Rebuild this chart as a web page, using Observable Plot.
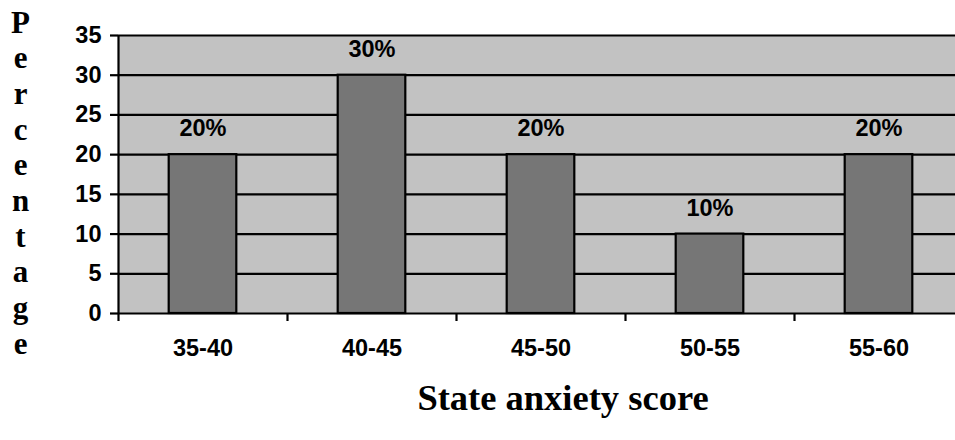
<!DOCTYPE html>
<html>
<head>
<meta charset="utf-8">
<script src="https://cdn.jsdelivr.net/npm/d3@7"></script>
<script src="https://cdn.jsdelivr.net/npm/@observablehq/plot@0.6"></script>
<style>
  html, body { margin: 0; padding: 0; background: white; overflow: hidden; }
</style>
</head>
<body>
<div id="chart"></div>
<script>
const categories = ["35-40", "40-45", "45-50", "50-55", "55-60"];
const percentages = [20, 30, 20, 10, 20];
const yTicks = [0, 5, 10, 15, 20, 25, 30, 35];
const yAxisTitle = "Percentage";
const xAxisTitle = "State anxiety score";

const data = categories.map((c, i) => ({cat: c, idx: i, pct: percentages[i]}));
const boundaryTicks = d3.range(categories.length + 1);
const centerTicks = categories.map((c, i) => i + 0.5);

const bg = "#c2c2c2";
const barFill = "#767676";

const chart = Plot.plot({
  width: 955,
  height: 440,
  marginLeft: 118,
  marginRight: 0,
  marginTop: 35,
  marginBottom: 127,
  style: {fontFamily: "'Liberation Sans', Arial, sans-serif", fontSize: "23.5px", fontWeight: "bold", background: "white", overflow: "visible"},
  x: {type: "linear", domain: [0, categories.length], range: [118, 963]},
  y: {domain: [0, 35], range: [313, 35]},
  marks: [
    Plot.frame({fill: bg, stroke: null}),
    Plot.ruleY(yTicks, {stroke: "black", strokeWidth: 2.2}),
    Plot.rectY(data, {x1: d => d.idx + 0.3, x2: d => d.idx + 0.7, y1: 0, y2: "pct", fill: barFill, stroke: "black", strokeWidth: 2.2}),
    Plot.text(data, {x: d => d.idx + 0.5, y: "pct", text: d => d.pct + "%", dy: -26, fontSize: 23.5, fontWeight: "bold"}),
    Plot.ruleX([0], {y1: 0, y2: 35, stroke: "black", strokeWidth: 2.2}),
    Plot.axisY({ticks: yTicks, tickSize: 8, tickPadding: 9, strokeWidth: 2.2, label: null, tickFormat: d => String(d)}),
    Plot.axisX({ticks: boundaryTicks, tickSize: 8, strokeWidth: 2.2, tickFormat: () => "", label: null}),
    Plot.axisX({ticks: centerTicks, tickSize: 0, tickPadding: 26, tickFormat: d => categories[Math.floor(d)], label: null}),
    Plot.text([yAxisTitle.split("").join("\n")], {
      frameAnchor: "top-left", dx: -98, dy: -28, lineAnchor: "top", textAnchor: "middle",
      lineHeight: 1.15, fontSize: 31, fontWeight: "bold", fontFamily: "'Liberation Serif', 'Times New Roman', serif"
    }),
    Plot.text([xAxisTitle], {
      frameAnchor: "bottom", dx: 26, dy: 96, lineAnchor: "bottom",
      fontSize: 36.5, fontWeight: "bold", fontFamily: "'Liberation Serif', 'Times New Roman', serif"
    })
  ]
});
document.getElementById("chart").appendChild(chart);
</script>
</body>
</html>
